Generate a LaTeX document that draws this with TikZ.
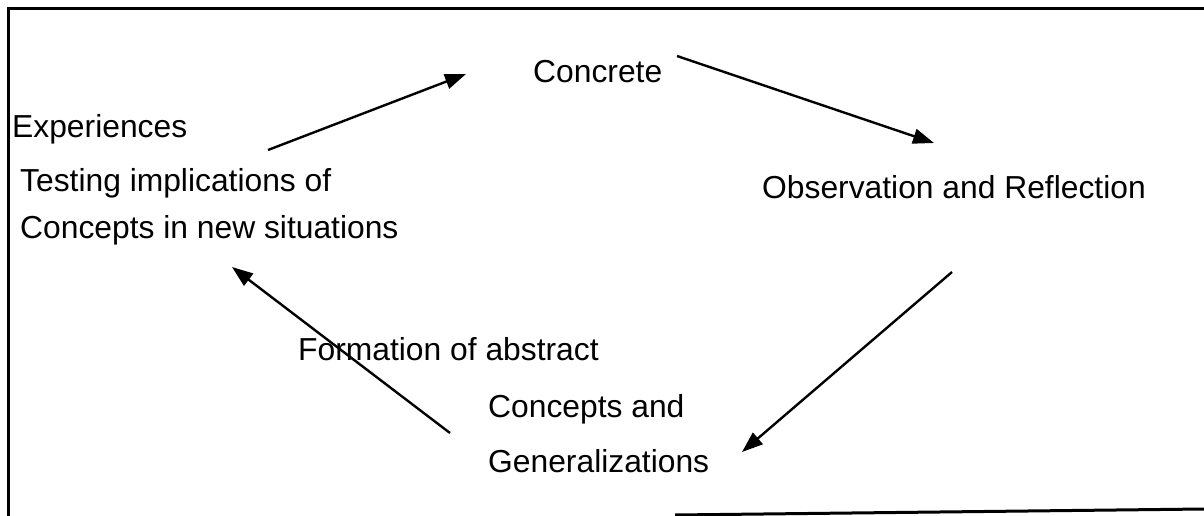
\documentclass[tikz,border=0pt]{standalone}
\usepackage{fontspec}
\setmainfont{Liberation Sans}
\usetikzlibrary{arrows.meta}
\tikzset{
  lbl/.style={anchor=base west, inner sep=0pt, font=\fontsize{31.8}{38}\selectfont},
  conn/.style={line width=2.4pt, -{Triangle[length=21pt,width=15pt]}},
  frame/.style={line width=3pt, line cap=butt}
}
\begin{document}
\begin{tikzpicture}[x=1pt,y=-1pt]
\useasboundingbox (0,0) rectangle (1204,516);
% frame
\coordinate (f1) at (1204,9);
\coordinate (f2) at (8,9);
\coordinate (f3) at (8,516);
\coordinate (b1) at (675,515);
\coordinate (b2) at (1204,509);
\draw[frame] (f1) -- (f2) -- (f3);
\draw[frame] (b1) -- (b2);
% texts
\node[lbl] (conc) at (533,83) {Concrete};
\node[lbl] (exp) at (12,137) {Experiences};
\node[lbl] (test1) at (20,191) {Testing implications of};
\node[lbl] (test2) at (20,238) {Concepts in new situations};
\node[lbl] (obs) at (762,198) {Observation and Reflection};
\node[lbl] (form1) at (298,360) {Formation of abstract};
\node[lbl] (form2) at (488,417) {Concepts and};
\node[lbl] (form3) at (488,472) {Generalizations};
% arrow endpoints
\coordinate (a1s) at (268,150);
\coordinate (a1e) at (466,74);
\coordinate (a2s) at (677,56);
\coordinate (a2e) at (934,143);
\coordinate (a3s) at (952,272);
\coordinate (a3e) at (742,452);
\coordinate (a4s) at (450,433);
\coordinate (a4e) at (232,267);
\draw[conn] (a1s) -- (a1e);
\draw[conn] (a2s) -- (a2e);
\draw[conn] (a3s) -- (a3e);
\draw[conn] (a4s) -- (a4e);
\end{tikzpicture}
\end{document}
